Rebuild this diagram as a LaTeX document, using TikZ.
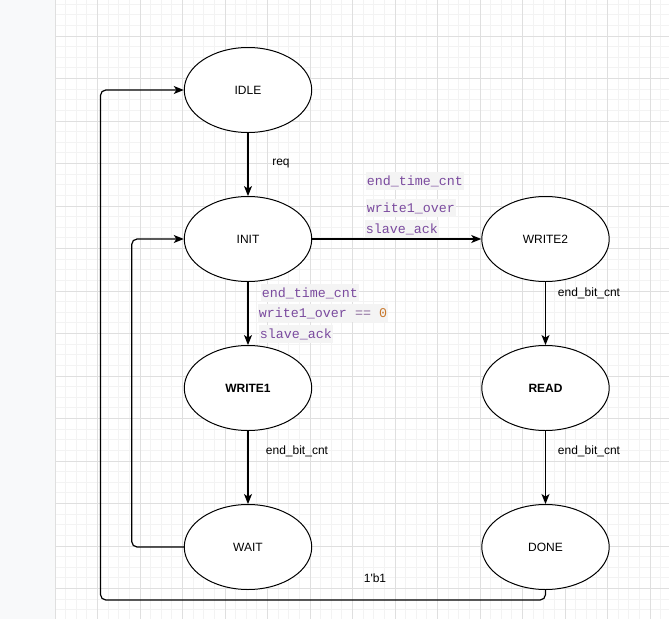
\documentclass[tikz,border=0pt]{standalone}
\usepackage{fontspec}
\setmainfont{Liberation Sans}
\newfontfamily\codefont{Liberation Mono}
\usetikzlibrary{arrows.meta}
\usetikzlibrary{shapes.geometric}
\definecolor{panel}{HTML}{F8F9FA}
\definecolor{gridminor}{HTML}{F3F3F3}
\definecolor{gridmajor}{HTML}{DFDFDF}
\definecolor{codebg}{HTML}{F4F4F4}
\definecolor{codefg}{HTML}{7A4A9E}
\definecolor{codeop}{HTML}{8C6A9C}
\definecolor{codenum}{HTML}{C8782D}
\tikzset{>={Stealth[length=7.5pt,width=6pt,inset=2pt]}}
\tikzset{
    state/.style={ellipse, draw, fill=white, line width=0.75pt, minimum width=95.6pt, minimum height=63.75pt, inner sep=0pt, font=\fontsize{9}{11}\selectfont},
    trans/.style={->, line width=0.9pt, rounded corners=4pt},
    cond/.style={inner sep=1pt, font=\fontsize{9}{11}\selectfont},
    code/.style={fill=codebg, text=codefg, inner xsep=1pt, inner ysep=2.5pt, font=\codefont\fontsize{10}{12}\selectfont},
}

\begin{document}
\begin{tikzpicture}[x=0.75pt, y=-0.75pt]
            \useasboundingbox (0, 0) rectangle (669, 619);
            % canvas
            \fill[white] (0, 0) rectangle (669, 619);
            \fill[panel] (0, 0) rectangle (55, 619);
            \foreach \i in {0,..., 57} {
                \draw[gridminor, line width=0.75pt] ({55 + \i*10.625}, 0) -- ({55 + \i*10.625}, 619);
            }
            \foreach \j in {0,..., 59} {
                \draw[gridminor, line width=0.75pt] (55, {-6.5 + \j*10.625}) -- (669, {-6.5 + \j*10.625});
            }
            \foreach \i in {0,..., 14} {
                \draw[gridmajor, line width=0.75pt] ({55 + \i*42.5}, 0) -- ({55 + \i*42.5}, 619);
            }
            \foreach \j in {0,..., 15} {
                \draw[gridmajor, line width=0.75pt] (55, {-6.5 + \j*42.5}) -- (669, {-6.5 + \j*42.5});
            }
            % states
            \node[state] (idle) at (248, 90) {IDLE};
            \node[state] (init) at (248, 239) {INIT};
            \node[state, font=\fontsize{9}{11}\selectfont\bfseries] (write1) at (248, 388) {WRITE1};
            \node[state] (wait) at (248, 547) {WAIT};
            \node[state] (write2) at (545.5, 239) {WRITE2};
            \node[state, font=\fontsize{9}{11}\selectfont\bfseries] (read) at (545.5, 388) {READ};
            \node[state] (done) at (545.5, 547) {DONE};
            \coordinate (waitloop) at (131.75, 547);
            \coordinate (doneloop) at (100.5, 600);
            % transitions
            \draw[trans] (idle) -- (init);
            \draw[trans] (init) -- (write2);
            \draw[trans] (init) -- (write1);
            \draw[trans] (write1) -- (wait);
            \draw[trans] (write2) -- (read);
            \draw[trans] (read) -- (done);
            \draw[trans] (wait.west) -- (waitloop) |- (init.west);
            \draw[trans] (done.south) |- (doneloop) |- (idle.west);
            % conditions
            \node[cond] (req) at (281, 164) {req};
            \node[code] (w2time) at (415, 181) {end\_time\_cnt};
            \node[code] (w2over) at (411, 208) {write1\_over\ };
            \node[code] (w2ack) at (402, 229) {slave\_ack};
            \node[code] (w1time) at (310, 293) {end\_time\_cnt};
            \node[code] (w1over) at (323, 313) {write1\_over \textcolor{codeop}{==} \textcolor{codenum}{0}};
            \node[code] (w1ack) at (296, 334) {slave\_ack};
            \node[cond] (waitbit) at (297, 451) {end\_bit\_cnt};
            \node[cond] (readbit) at (589, 293) {end\_bit\_cnt};
            \node[cond] (donebit) at (589, 451) {end\_bit\_cnt};
            \node[cond] (always) at (375, 578) {1\textquotesingle b1};
\end{tikzpicture}
\end{document}
